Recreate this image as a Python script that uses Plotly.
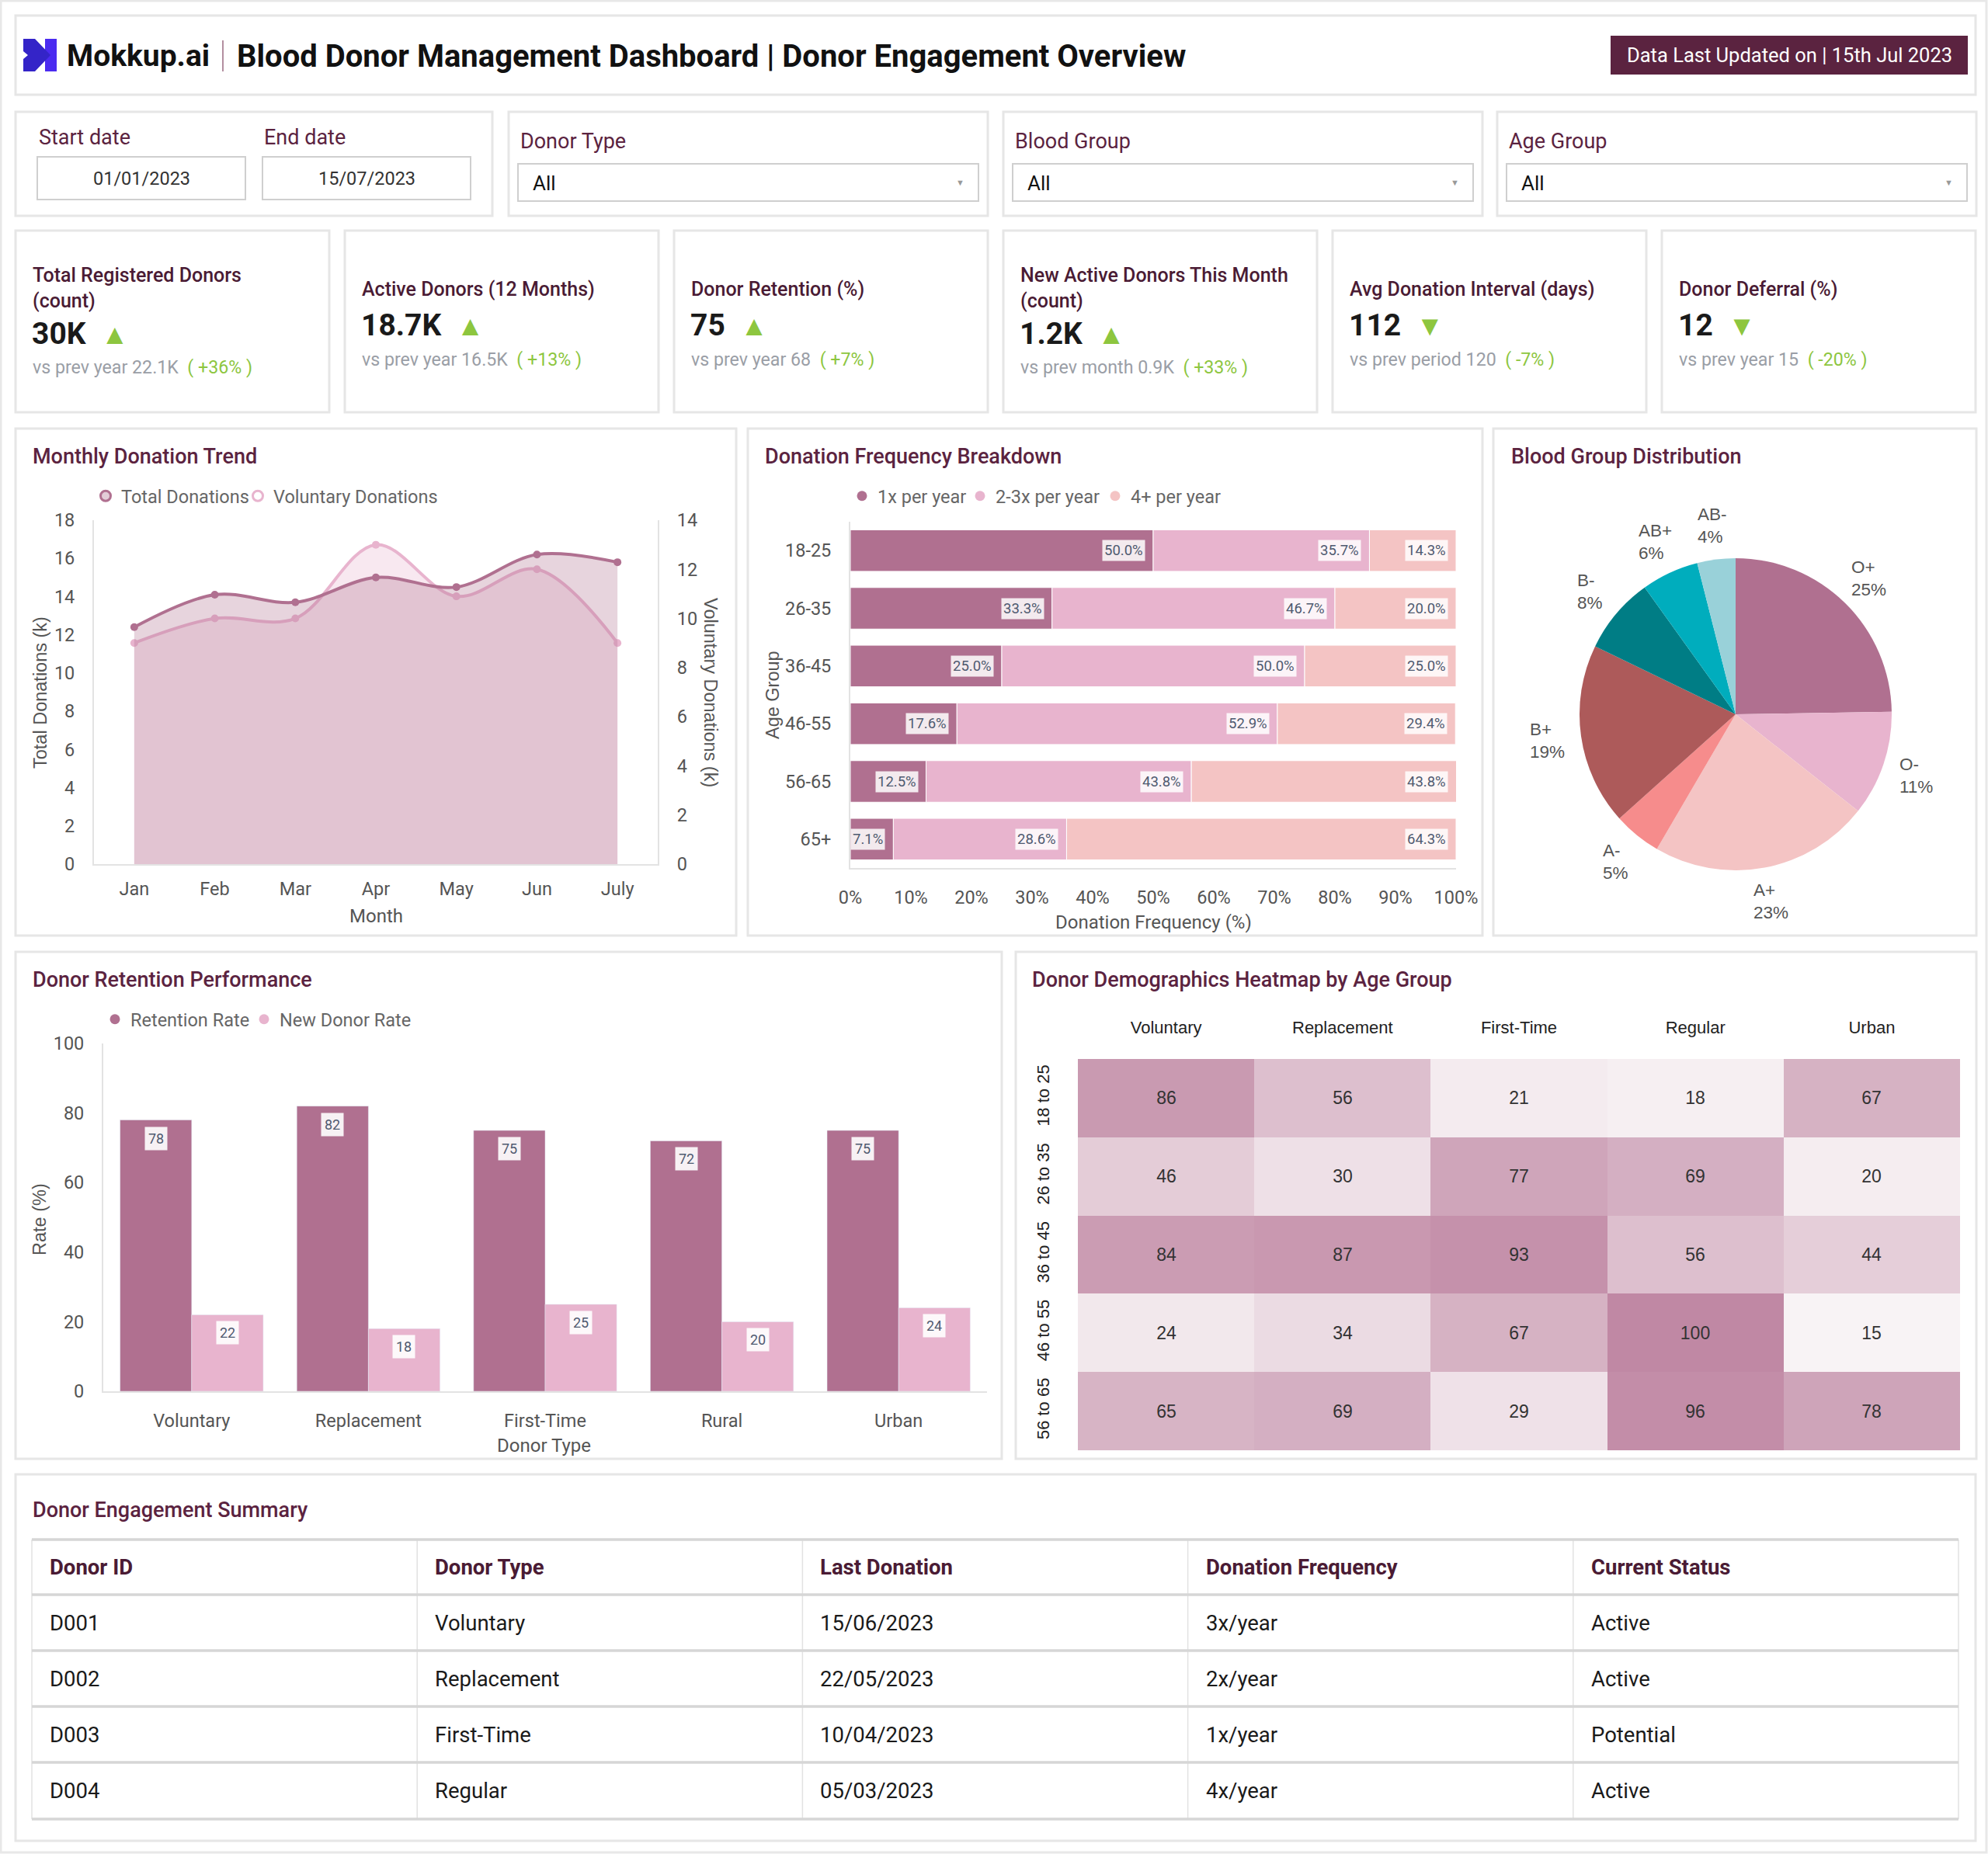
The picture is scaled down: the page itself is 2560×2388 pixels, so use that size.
import math
import plotly.graph_objects as go

W, H = 2560, 2388
def X(x): return x / W
def Y(y): return 1 - y / H

# ---------------- DATA ----------------
months = ["Jan", "Feb", "Mar", "Apr", "May", "Jun", "July"]
total_donations = [12.4, 14.1, 13.7, 15.0, 14.5, 16.2, 15.8]
voluntary_donations = [9.0, 10.0, 10.0, 13.0, 10.9, 12.0, 9.0]

age_groups = ["18-25", "26-35", "36-45", "46-55", "56-65", "65+"]
freq_1x = [50.0, 33.3, 25.0, 17.6, 12.5, 7.1]
freq_2_3x = [35.7, 46.7, 50.0, 52.9, 43.8, 28.6]
freq_4plus = [14.3, 20.0, 25.0, 29.4, 43.8, 64.3]
freq_names = ["1x per year", "2-3x per year", "4+ per year"]

blood_groups = ["O+", "O-", "A+", "A-", "B+", "B-", "AB+", "AB-"]
blood_share = [25, 11, 23, 5, 19, 8, 6, 4]

donor_types = ["Voluntary", "Replacement", "First-Time", "Rural", "Urban"]
retention_rate = [78, 82, 75, 72, 75]
new_donor_rate = [22, 18, 25, 20, 24]

heat_cols = ["Voluntary", "Replacement", "First-Time", "Regular", "Urban"]
heat_rows = ["18 to 25", "26 to 35", "36 to 45", "46 to 55", "56 to 65"]
heat_values = [
    [86, 56, 21, 18, 67],
    [46, 30, 77, 69, 20],
    [84, 87, 93, 56, 44],
    [24, 34, 67, 100, 15],
    [65, 69, 29, 96, 78],
]

table_headers = ["Donor ID", "Donor Type", "Last Donation", "Donation Frequency", "Current Status"]
table_ids = ["D001", "D002", "D003", "D004"]
table_types = ["Voluntary", "Replacement", "First-Time", "Regular"]
table_last = ["15/06/2023", "22/05/2023", "10/04/2023", "05/03/2023"]
table_freq = ["3x/year", "2x/year", "1x/year", "4x/year"]
table_status = ["Active", "Active", "Potential", "Active"]

kpi_titles = ["Total Registered Donors<br>(count)", "Active Donors (12 Months)", "Donor Retention (%)",
              "New Active Donors This Month<br>(count)", "Avg Donation Interval (days)", "Donor Deferral (%)"]
kpi_values = ["30K", "18.7K", "75", "1.2K", "112", "12"]
kpi_up = [True, True, True, True, False, False]
kpi_compare = ["vs prev year 22.1K", "vs prev year 16.5K", "vs prev year 68",
               "vs prev month 0.9K", "vs prev period 120", "vs prev year 15"]
kpi_delta = ["+36%", "+13%", "+7%", "+33%", "-7%", "-20%"]

filter_labels = ["Donor Type", "Blood Group", "Age Group"]
filter_values = ["All", "All", "All"]
date_labels = ["Start date", "End date"]
date_values = ["01/01/2023", "15/07/2023"]

# ---------------- STYLE ----------------
MAROON = "#5B2340"
TITLE = "#4A1B34"
C1 = "#B07090"
C2 = "#E8B4CE"
C3 = "#F4C4C4"
PIE_COLORS = ["#B07090", "#E8B4CE", "#F4C4C4", "#F68C8C", "#AD5A5A", "#007D85", "#00ADBD", "#99D1D9"]
GREEN = "#8DC63F"
GRAY = "#555555"
ROB = "Roboto"
ARI = "Liberation Sans"
BORDER = "#E6E6E6"
TICK = 23.5

shapes = []
annotations = []

def rect(x0, y0, x1, y1, fill="white", line=BORDER, lw=3, layer="below"):
    shapes.append(dict(type="rect", xref="paper", yref="paper", x0=X(x0), x1=X(x1),
                       y0=Y(y1), y1=Y(y0), fillcolor=fill, line=dict(color=line, width=lw), layer=layer))

def hline(x0, x1, y, color, w):
    shapes.append(dict(type="line", xref="paper", yref="paper", x0=X(x0), x1=X(x1), y0=Y(y), y1=Y(y),
                       line=dict(color=color, width=w), layer="above"))

def vline(x, y0, y1, color, w):
    shapes.append(dict(type="line", xref="paper", yref="paper", x0=X(x), x1=X(x), y0=Y(y1), y1=Y(y0),
                       line=dict(color=color, width=w), layer="above"))

def text(x, y, t, size=22, color=GRAY, family=ROB, weight=400, xa="left", ya="middle", angle=0,
         align="left", **kw):
    annotations.append(dict(x=X(x), y=Y(y), xref="paper", yref="paper", text=t, showarrow=False,
                            xanchor=xa, yanchor=ya, textangle=angle, align=align,
                            font=dict(size=size, color=color, family=family, weight=weight), **kw))

# outer frame
rect(1, 1, 2558, 2386, fill="white", line="#E8E8E8", lw=3)

# header
rect(20, 20, 2544, 122)
def poly(pts, color):
    d = "M " + " L ".join(f"{X(a)},{Y(b)}" for a, b in pts) + " Z"
    shapes.append(dict(type="path", xref="paper", yref="paper", path=d, fillcolor=color,
                       line=dict(width=0), layer="above"))
poly([(58, 50), (73, 50), (73, 92), (58, 92)], "#4B2BF0")
poly([(30, 50), (45, 50), (65, 71), (45, 92), (30, 92), (30, 76), (36, 71), (30, 66)], "#3424C8")
text(84, 72, "Mokkup.ai", size=39, color="#111111", weight=700)
vline(287, 52, 92, "#9A6A80", 1.5)
text(303, 72, "Blood Donor Management Dashboard | Donor Engagement Overview", size=40,
     color="#111111", weight=700)
rect(2074, 46, 2534, 96, fill=MAROON, line=MAROON, lw=0, layer="above")
text(2304, 71, "Data Last Updated on | 15th Jul 2023", size=25.5, color="white", xa="center")

# filters
rect(20, 144, 634, 278)
for i, (lab, val) in enumerate(zip(date_labels, date_values)):
    x0 = 48 + i * 290
    text(x0, 177, lab, size=27, color=MAROON)
    rect(x0, 202, x0 + 268, 257, fill="white", line="#CFCFCF", lw=2)
    text(x0 + 134, 230, val, size=23.5, color="#333333", xa="center")

fcards = [655, 1292, 1928]
for L, lab, val in zip(fcards, filter_labels, filter_values):
    rect(L, 144, L + 617, 278)
    text(L + 13, 182, lab, size=27, color=MAROON)
    rect(L + 12, 211, L + 605, 259, fill="white", line="#CFCFCF", lw=2)
    text(L + 29, 236, val, size=26, color="#111111")
    text(L + 581, 236, "▼", size=11, color="#999999", xa="center")

# KPI cards
kx = [20, 444, 868, 1292, 1716, 2140]
for i, L in enumerate(kx):
    rect(L, 297, L + 404, 531)
    two = "<br>" in kpi_titles[i]
    text(L + 20, 371 if two else 372, kpi_titles[i], size=25, color=TITLE, weight=500)
    arrow = "▲" if kpi_up[i] else "▼"
    text(L + 19, 430 if two else 419,
         f"{kpi_values[i]}\u00a0\u00a0<span style='font-size:36px;color:{GREEN}'>{arrow}</span>",
         size=39, color="#1A1A1A", weight=700)
    text(L + 20, 473 if two else 463,
         f"{kpi_compare[i]}\u00a0 <span style='color:{GREEN}'>(\u00a0{kpi_delta[i]}\u00a0)</span>",
         size=23.2, color="#9A9EA6")

# chart cards
rect(20, 552, 948, 1205)
rect(963, 552, 1909, 1205)
rect(1923, 552, 2545, 1205)
rect(20, 1226, 1290, 1879)
rect(1308, 1226, 2545, 1879)
rect(20, 1899, 2544, 2371)

text(40, 588, "Monthly Donation Trend", size=27, color=MAROON, weight=500)
text(983, 588, "Donation Frequency Breakdown", size=27, color=MAROON, weight=500)
text(1944, 588, "Blood Group Distribution", size=27, color=MAROON, weight=500)
text(40, 1262, "Donor Retention Performance", size=27, color=MAROON, weight=500)
text(1327, 1262, "Donor Demographics Heatmap by Age Group", size=27, color=MAROON, weight=500)
text(40, 1945, "Donor Engagement Summary", size=27, color=MAROON, weight=500)

fig = go.Figure()

# ---------- Monthly Donation Trend ----------
fig.add_trace(go.Scatter(x=months, y=voluntary_donations, xaxis="x", yaxis="y", mode="lines+markers",
                         line=dict(color=C2, width=4, shape="spline"),
                         marker=dict(size=10, color=C2), fill="tozeroy",
                         fillcolor="rgba(232,180,206,0.3)", showlegend=False, hoverinfo="skip"))
fig.add_trace(go.Scatter(x=months, y=total_donations, xaxis="x", yaxis="y2", mode="lines+markers",
                         line=dict(color=C1, width=4, shape="spline"),
                         marker=dict(size=10, color=C1), fill="tozeroy",
                         fillcolor="rgba(176,112,144,0.3)", showlegend=False, hoverinfo="skip"))
for nm, col, inner, lw_ in [("Total Donations", C1, "rgba(176,112,144,0.35)", 151),
                            ("Voluntary Donations", C2, "rgba(255,255,255,1)", None)]:
    fig.add_trace(go.Scatter(x=[None], y=[None], xaxis="x", yaxis="y", mode="markers", name=nm,
                             marker=dict(size=13, color=inner, line=dict(color=col, width=3)),
                             legend="legend", legendwidth=lw_))

# ---------- Donation Frequency ----------
freq_lw = [107, 129, None]
base = [0.0] * len(age_groups)
for vals, col, nm, lw_ in zip([freq_1x, freq_2_3x, freq_4plus], [C1, C2, C3], freq_names, freq_lw):
    fig.add_trace(go.Bar(y=age_groups, x=vals, base=base[:], orientation="h", xaxis="x3", yaxis="y3",
                         marker=dict(color=col, line=dict(color="white", width=1)), width=0.72, offset=-0.36,
                         showlegend=False, hoverinfo="skip"))
    for i, v in enumerate(vals):
        end = min(base[i] + v, 100.0)
        annotations.append(dict(x=end, y=age_groups[i], xref="x3", yref="y3", text=f"{v:.1f}%",
                                showarrow=False, xanchor="right", xshift=-10, bgcolor="rgba(255,255,255,0.85)",
                                borderpad=2, font=dict(size=18.5, color="#4F5A70", family=ROB)))
    base = [b + v for b, v in zip(base, vals)]
    fig.add_trace(go.Scatter(x=[None], y=[None], xaxis="x3", yaxis="y3", mode="markers", name=nm,
                             marker=dict(size=13, color=col), legend="legend2", legendwidth=lw_))

# ---------- Pie ----------
PCX, PCY, PR = 2235, 920, 201
fig.add_trace(go.Pie(labels=blood_groups, values=blood_share, sort=False, direction="clockwise", rotation=0,
                     marker=dict(colors=PIE_COLORS, line=dict(width=0)), textinfo="none",
                     showlegend=False, domain=dict(x=[X(PCX - PR), X(PCX + PR)], y=[Y(PCY + PR), Y(PCY - PR)]),
                     hoverinfo="skip"))
tot = sum(blood_share)
cum = 0.0
for lab, v in zip(blood_groups, blood_share):
    mid = (cum + v / 2) / tot * 2 * math.pi
    cum += v
    lx = PCX + 245 * math.sin(mid)
    ly = PCY - 245 * math.cos(mid)
    text(lx, ly, f"{lab}<br>{round(v / tot * 100)}%", size=22.5, color=GRAY, family=ARI, xa="center")

# ---------- Retention ----------
bw = 0.405
fig.add_trace(go.Bar(x=donor_types, y=retention_rate, xaxis="x4", yaxis="y4", marker=dict(color=C1),
                     width=bw, offset=-bw, showlegend=False, hoverinfo="skip"))
fig.add_trace(go.Bar(x=donor_types, y=new_donor_rate, xaxis="x4", yaxis="y4", marker=dict(color=C2),
                     width=bw, offset=0, showlegend=False, hoverinfo="skip"))
for i in range(len(donor_types)):
    for v, dxx in [(retention_rate[i], -bw / 2), (new_donor_rate[i], bw / 2)]:
        annotations.append(dict(x=i + dxx, y=v, xref="x4", yref="y4", text=str(v), showarrow=False,
                                yanchor="top", yshift=-8, bgcolor="rgba(255,255,255,0.9)", borderpad=4,
                                font=dict(size=18, color="#4F5A70", family=ROB)))
for nm, col, lw_ in [("Retention Rate", C1, 147), ("New Donor Rate", C2, None)]:
    fig.add_trace(go.Scatter(x=[None], y=[None], xaxis="x4", yaxis="y4", mode="markers", name=nm,
                             marker=dict(size=13, color=col), legend="legend3", legendwidth=lw_))

# ---------- Heatmap ----------
fig.add_trace(go.Heatmap(z=heat_values, x=heat_cols, y=heat_rows, xaxis="x5", yaxis="y5",
                         colorscale=[[0, "#F8F3F5"], [1, "#C088A4"]], zmin=15, zmax=100, showscale=False,
                         texttemplate="%{z}", textfont=dict(family=ARI, size=23, color="#333333"),
                         hoverinfo="skip"))

# ---------- Table (drawn) ----------
TX0, TX1 = 41, 2522
row_y = [1983, 2054, 2126, 2198, 2270, 2343]
ncol = len(table_headers)
colw = (TX1 - TX0) / ncol
for j in range(ncol + 1):
    vline(TX0 + j * colw, row_y[0], row_y[-1], "#E2E2E2", 1.5)
for yy in row_y:
    hline(TX0, TX1, yy, "#D6D6D6", 3.5)
columns = [table_ids, table_types, table_last, table_freq, table_status]
for j, h in enumerate(table_headers):
    text(TX0 + j * colw + 21, (row_y[0] + row_y[1]) / 2, h, size=27.5, color=TITLE, weight=700)
    for r, val in enumerate(columns[j]):
        text(TX0 + j * colw + 21, (row_y[r + 1] + row_y[r + 2]) / 2, val, size=27.5, color="#1A1A1A")

# axis titles
text(52, 892, "Total Donations (k)", size=23.5, color=GRAY, family=ARI, xa="center", angle=-90)
text(915, 892, "Voluntary Donations (k)", size=23.5, color=GRAY, family=ARI, xa="center", angle=90)
text(484, 1180, "Month", size=24, color=GRAY, xa="center")
text(995, 895, "Age Group", size=23.5, color=GRAY, family=ARI, xa="center", angle=-90)
text(1485, 1188, "Donation Frequency (%)", size=24, color=GRAY, xa="center")
text(51, 1571, "Rate (%)", size=23.5, color=GRAY, family=ARI, xa="center", angle=-90)
text(700, 1862, "Donor Type", size=24, color=GRAY, xa="center")

tick = dict(family=ROB, size=TICK, color=GRAY)
def dx(a, b): return [X(a), X(b)]
def dy(top, bot): return [Y(bot), Y(top)]
AX = dict(showline=True, linecolor="#E3E3E3", linewidth=2, showgrid=False, zeroline=False, tickfont=tick,
          automargin=False)

fig.update_layout(
    width=W, height=H, autosize=False,
    margin=dict(l=0, r=0, t=0, b=0, pad=0, autoexpand=False),
    paper_bgcolor="white", plot_bgcolor="rgba(0,0,0,0)",
    barmode="group", shapes=shapes, annotations=annotations,
    xaxis=dict(domain=dx(121, 847), anchor="y", range=[-0.5, 6.5], ticklabelstandoff=10, **AX),
    yaxis=dict(domain=dy(670, 1113), anchor="x", side="right", range=[0, 14], dtick=2,
               ticklabelstandoff=18, **AX),
    yaxis2=dict(overlaying="y", anchor="x", side="left", range=[0, 18], dtick=2,
                ticklabelstandoff=18, **AX),
    xaxis3=dict(domain=dx(1095, 1875), anchor="y3", range=[0, 100], dtick=10, ticksuffix="%",
                ticklabelstandoff=16, **AX),
    yaxis3=dict(domain=dy(672, 1118), anchor="x3", categoryorder="array", categoryarray=age_groups,
                autorange="reversed", ticklabelstandoff=18, **AX),
    xaxis4=dict(domain=dx(133, 1271), anchor="y4", range=[-0.5, 4.5], ticklabelstandoff=16, **AX),
    yaxis4=dict(domain=dy(1344, 1792), anchor="x4", range=[0, 100], dtick=20, ticklabelstandoff=18, **AX),
    xaxis5=dict(domain=dx(1388, 2524), anchor="y5", side="top", showline=False, showgrid=False,
                zeroline=False, automargin=False, tickfont=dict(family=ARI, size=22, color="#222222"),
                ticklabelstandoff=28),
    yaxis5=dict(domain=dy(1364, 1868), anchor="x5", autorange="reversed", showline=False, showgrid=False,
                zeroline=False, automargin=False, tickangle=-90,
                tickfont=dict(family=ARI, size=22, color="#222222"), ticklabelstandoff=32),
    legend=dict(x=X(116), y=Y(639), xanchor="left", yanchor="middle", orientation="h",
                font=dict(family=ROB, size=23.5, color="#666666"), bgcolor="rgba(0,0,0,0)"),
    legend2=dict(x=X(1090), y=Y(639), xanchor="left", yanchor="middle", orientation="h",
                 font=dict(family=ROB, size=23.5, color="#666666"), bgcolor="rgba(0,0,0,0)"),
    legend3=dict(x=X(128), y=Y(1313), xanchor="left", yanchor="middle", orientation="h",
                 font=dict(family=ROB, size=23.5, color="#666666"), bgcolor="rgba(0,0,0,0)"),
)

fig.write_html("out.html")
